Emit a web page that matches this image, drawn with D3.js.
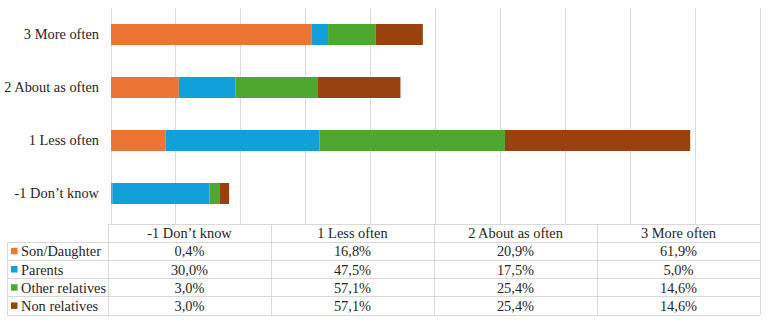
<!DOCTYPE html>
<html><head><meta charset="utf-8">
<script src="https://cdn.jsdelivr.net/npm/d3@7"></script>
<style>body{margin:0;background:#fff}svg{display:block}</style>
</head><body><svg id="c" width="767" height="323"></svg>
<script>
const categories = ["-1 Don\u2019t know", "1 Less often", "2 About as often", "3 More often"];
const seriesNames = ["Son/Daughter", "Parents", "Other relatives", "Non relatives"];
const sonDaughter = [0.4, 16.8, 20.9, 61.9];
const parents = [30.0, 47.5, 17.5, 5.0];
const otherRelatives = [3.0, 57.1, 25.4, 14.6];
const nonRelatives = [3.0, 57.1, 25.4, 14.6];
const colors = ["#EC7535", "#12A0D8", "#4EA82F", "#9A4110"];
const xTicks = [0, 20, 40, 60, 80, 100, 120, 140, 160, 180, 200];

const FONT = "'Liberation Serif', 'Times New Roman', serif";
const FS = "14.4px";
const TC = "#262626";

const seriesValues = [sonDaughter, parents, otherRelatives, nonRelatives];
const rows = categories.map((c, i) => {
  const o = {cat: c};
  seriesNames.forEach((s, j) => o[s] = seriesValues[j][i]);
  return o;
});
const stacked = d3.stack().keys(seriesNames)(rows);

const svg = d3.select("#c");
const x = d3.scaleLinear().domain([0, 200]).range([111, 760]);
const y = d3.scaleBand().domain(categories.slice().reverse()).range([8, 220]).paddingInner(0.604).paddingOuter(0.302);

svg.append("g").selectAll("line").data(xTicks).join("line")
  .attr("x1", d => x(d)).attr("x2", d => x(d))
  .attr("y1", 8).attr("y2", 224)
  .attr("stroke", "#d9d9d9").attr("stroke-width", 1).attr("shape-rendering", "crispEdges");

svg.append("g").selectAll("g").data(stacked).join("g")
  .attr("fill", (d, i) => colors[i])
  .selectAll("rect").data(d => d).join("rect")
  .attr("x", d => x(d[0])).attr("width", d => x(d[1]) - x(d[0]))
  .attr("y", d => y(d.data.cat)).attr("height", y.bandwidth());

const yAxis = d3.axisLeft(y).tickSize(0).tickPadding(12);
const ya = svg.append("g").attr("transform", "translate(111,0)").call(yAxis)
  .attr("font-family", FONT).attr("font-size", FS);
ya.select(".domain").remove();
ya.selectAll("text").attr("fill", TC);

const tTop = 224, rowH = 18.2, tLeft = 108, tRight = 760, labLeft = 7;
const colX = d3.scaleBand().domain(categories).range([tLeft, tRight]);
const rowY = d3.scaleBand().domain(["header"].concat(seriesNames)).range([tTop, tTop + rowH * 5]);
const tg = svg.append("g").attr("font-family", FONT).attr("font-size", FS).attr("fill", TC);
const bc = "#d9d9d9";
tg.append("line").attr("x1", tLeft).attr("x2", tRight).attr("y1", tTop).attr("y2", tTop);
rowY.domain().slice(1).forEach(s => {
  tg.append("line").attr("x1", labLeft).attr("x2", tRight).attr("y1", rowY(s)).attr("y2", rowY(s));
});
tg.append("line").attr("x1", labLeft).attr("x2", tRight).attr("y1", tTop + rowH * 5).attr("y2", tTop + rowH * 5);
categories.forEach(c => tg.append("line").attr("x1", colX(c)).attr("x2", colX(c)).attr("y1", tTop).attr("y2", tTop + rowH * 5));
tg.append("line").attr("x1", tRight).attr("x2", tRight).attr("y1", tTop).attr("y2", tTop + rowH * 5);
tg.append("line").attr("x1", labLeft).attr("x2", labLeft).attr("y1", rowY(seriesNames[0])).attr("y2", tTop + rowH * 5);
tg.selectAll("line").attr("stroke", bc).attr("stroke-width", 1).attr("shape-rendering", "crispEdges");

tg.selectAll("text.h").data(categories).join("text").attr("class", "h")
  .attr("x", d => colX(d) + colX.bandwidth() / 2).attr("y", rowY("header") + rowH / 2)
  .attr("dy", "0.35em").attr("text-anchor", "middle").text(d => d);
seriesNames.forEach((s, j) => {
  const cy = rowY(s) + rowH / 2;
  tg.append("rect").attr("x", 11).attr("y", cy - 3.5).attr("width", 6.5).attr("height", 6.5).attr("fill", colors[j]);
  tg.append("text").attr("x", 21).attr("y", cy).attr("dy", "0.35em").text(s);
  tg.selectAll(null).data(seriesValues[j]).join("text")
    .attr("x", (d, i) => colX(categories[i]) + colX.bandwidth() / 2).attr("y", cy)
    .attr("dy", "0.35em").attr("text-anchor", "middle")
    .text(d => d.toFixed(1).replace(".", ",") + "%");
});
</script></body></html>
